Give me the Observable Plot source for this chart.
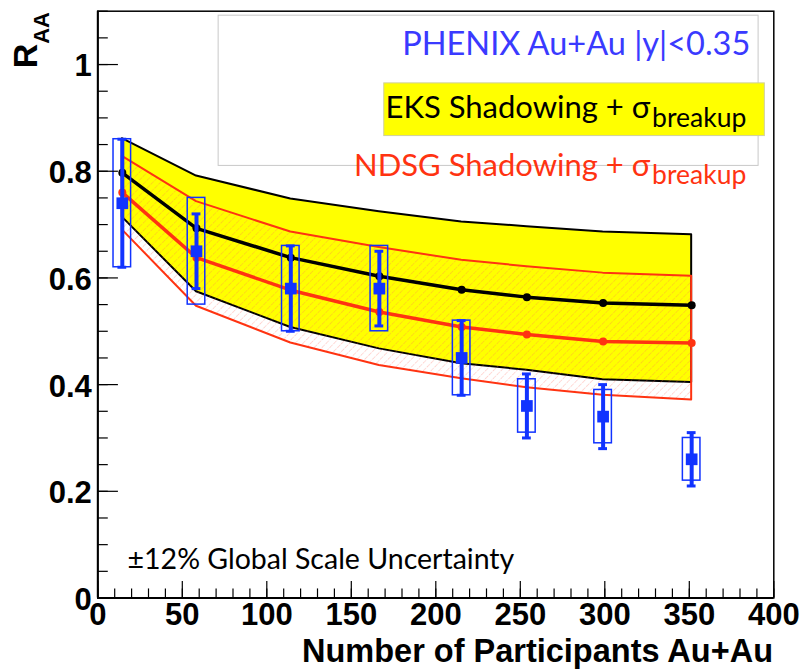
<!DOCTYPE html>
<html><head><meta charset="utf-8">
<script src="https://cdn.jsdelivr.net/npm/d3@7"></script>
<script src="https://cdn.jsdelivr.net/npm/@observablehq/plot@0.6"></script>
<style>body{margin:0;background:#fff}</style>
</head><body><div id="chart"></div>
<script>
// Number of participants (centrality bins)
const npart = [14.5, 58.4, 114.2, 166.6, 215.3, 253.9, 299.0, 351.4];
// PHENIX Au+Au |y|<0.35 J/psi R_AA
const raa    = [0.74, 0.65, 0.58, 0.58, 0.45, 0.36, 0.34, 0.26];
const statErr= [0.12, 0.07, 0.08, 0.07, 0.07, 0.06, 0.06, 0.05];
const sysErr = [0.12, 0.10, 0.08, 0.08, 0.07, 0.05, 0.05, 0.04];
// EKS shadowing + sigma_breakup band
const eksMid = [0.797, 0.693, 0.638, 0.603, 0.578, 0.564, 0.553, 0.549];
const eksHi  = [0.861, 0.791, 0.748, 0.724, 0.705, 0.696, 0.686, 0.681];
const eksLo  = [0.714, 0.574, 0.507, 0.467, 0.439, 0.427, 0.409, 0.404];
// NDSG shadowing + sigma_breakup band
const ndsgMid= [0.760, 0.638, 0.577, 0.536, 0.508, 0.494, 0.481, 0.478];
const ndsgHi = [0.828, 0.743, 0.686, 0.657, 0.633, 0.621, 0.609, 0.603];
const ndsgLo = [0.690, 0.547, 0.478, 0.436, 0.411, 0.394, 0.380, 0.371];
// axis ticks
const xTicks = [0, 50, 100, 150, 200, 250, 300, 350, 400];
const yTicks = [0, 0.2, 0.4, 0.6, 0.8, 1];
const xMinor = d3.range(0, 401, 10);
const yMinor = d3.range(0, 1.101, 0.05);

const blue = "#1133ff", red = "#ff3311";
const rows = npart.map((n, i) => ({
  n, raa: raa[i], stat: statErr[i], sys: sysErr[i],
  eksMid: eksMid[i], eksHi: eksHi[i], eksLo: eksLo[i],
  ndsgMid: ndsgMid[i], ndsgHi: ndsgHi[i], ndsgLo: ndsgLo[i]
}));

const tickFont = "Liberation Sans";
const plot = Plot.plot({
  width: 801, height: 671,
  marginLeft: 97.3, marginRight: 27.7, marginTop: 10.7, marginBottom: 73.5,
  x: {domain: [0, 400]},
  y: {domain: [0, 1.1]},
  style: {fontFamily: "Lato", background: "white", color: "black"},
  marks: [
    // legend frame
    Plot.rect([{x1: 71.5, x2: 391.0, y1: 0.810, y2: 1.0916}], {x1: "x1", x2: "x2", y1: "y1", y2: "y2", fill: "white", stroke: "#c8c8c8", strokeWidth: 1}),
    Plot.rect([{x1: 169.5, x2: 394.7, y1: 0.8659, y2: 0.9647}], {x1: "x1", x2: "x2", y1: "y1", y2: "y2", fill: "#ffff00", stroke: "#d0d0a0", strokeWidth: 1}),
    // EKS band
    Plot.areaY(rows, {x: "n", y1: "eksLo", y2: "eksHi", fill: "#ffff00", stroke: "black", strokeWidth: 2}),
    // NDSG band (hatched)
    Plot.areaY(rows, {x: "n", y1: "ndsgLo", y2: "ndsgHi", fill: "url(#hatch)", stroke: red, strokeWidth: 2}),
    // central curves
    Plot.line(rows, {x: "n", y: "eksMid", stroke: "black", strokeWidth: 3.5}),
    Plot.dot(rows, {x: "n", y: "eksMid", fill: "black", r: 4}),
    Plot.line(rows, {x: "n", y: "ndsgMid", stroke: red, strokeWidth: 3.5}),
    Plot.dot(rows, {x: "n", y: "ndsgMid", fill: red, r: 4}),
    // PHENIX data
    Plot.rect(rows, {x1: d => d.n - 5.2, x2: d => d.n + 5.2, y1: d => d.raa - d.sys, y2: d => d.raa + d.sys, fill: "none", stroke: blue, strokeWidth: 1.5}),
    Plot.ruleX(rows, {x: "n", y1: d => d.raa - d.stat, y2: d => d.raa + d.stat, stroke: blue, strokeWidth: 4}),
    Plot.ruleY(rows, {y: d => d.raa + d.stat, x1: d => d.n - 2.6, x2: d => d.n + 2.6, stroke: blue, strokeWidth: 3}),
    Plot.ruleY(rows, {y: d => d.raa - d.stat, x1: d => d.n - 2.6, x2: d => d.n + 2.6, stroke: blue, strokeWidth: 3}),
    Plot.dot(rows, {x: "n", y: "raa", symbol: "square", fill: blue, r: 6.6}),
    // legend texts
    Plot.text([{x: 386.1, y: 1.0178}], {x: "x", y: "y", text: () => "PHENIX Au+Au |y|<0.35", textAnchor: "end", lineAnchor: "bottom", fontSize: 32.5, fill: "#3a3aff"}),
    Plot.text([{x: 326.9, y: 0.899}], {x: "x", y: "y", text: () => "EKS Shadowing + σ", textAnchor: "end", lineAnchor: "bottom", fontSize: 31, fill: "black"}),
    Plot.text([{x: 328.0, y: 0.8833}], {x: "x", y: "y", text: () => "breakup", textAnchor: "start", lineAnchor: "bottom", fontSize: 26.5, fill: "black"}),
    Plot.text([{x: 326.9, y: 0.7914}], {x: "x", y: "y", text: () => "NDSG Shadowing + σ", textAnchor: "end", lineAnchor: "bottom", fontSize: 31, fill: red}),
    Plot.text([{x: 328.0, y: 0.7758}], {x: "x", y: "y", text: () => "breakup", textAnchor: "start", lineAnchor: "bottom", fontSize: 26.5, fill: red}),
    Plot.text([{x: 17.6, y: 0.0535}], {x: "x", y: "y", text: () => "±12% Global Scale Uncertainty", textAnchor: "start", lineAnchor: "bottom", fontSize: 28.5, fill: "black"}),
    // ticks (inward)
    Plot.ruleY(yMinor, {y: d => d, x1: 0, x2: 6.2, stroke: "black", strokeWidth: 1.2}),
    Plot.ruleY(yTicks, {y: d => d, x1: 0, x2: 12.2, stroke: "black", strokeWidth: 1.2}),
    Plot.ruleX(xMinor, {x: d => d, y1: 0, y2: 0.017, stroke: "black", strokeWidth: 1.2}),
    Plot.ruleX(xTicks, {x: d => d, y1: 0, y2: 0.031, stroke: "black", strokeWidth: 1.2}),
    Plot.frame({stroke: "black", strokeWidth: 1.5}),
    Plot.ruleX([0], {stroke: "black", strokeWidth: 2}),
    Plot.ruleY([0], {stroke: "black", strokeWidth: 2}),
    Plot.axisX({ticks: xTicks, tickSize: 0, tickPadding: 5, fontSize: 31, fontWeight: "bold", label: null, tickFormat: d => String(d)}),
    Plot.axisY({ticks: yTicks, tickSize: 0, tickPadding: 6, dy: 2, fontSize: 31, fontWeight: "bold", label: null, tickFormat: d => String(d)})
  ]
});

const svg = d3.select(plot);
// tick labels in a Helvetica-like face
svg.selectAll("g[aria-label='x-axis tick label'], g[aria-label='y-axis tick label']")
  .attr("font-family", tickFont).style("font-family", tickFont);

const defs = svg.insert("defs", ":first-child");
const pat = defs.append("pattern").attr("id", "hatch").attr("patternUnits", "userSpaceOnUse")
  .attr("width", 5.5).attr("height", 5.5).attr("patternTransform", "rotate(45)");
pat.append("line").attr("x1", 0).attr("y1", 0).attr("x2", 0).attr("y2", 5.5)
  .attr("stroke", "#ff6a5a").attr("stroke-width", 0.9).attr("stroke-opacity", 0.6).attr("stroke-dasharray", "2 1.2");

// axis titles
const yt = svg.append("text").attr("transform", "translate(37,12) rotate(-90)").attr("text-anchor", "end")
  .attr("font-family", tickFont).attr("font-weight", "bold").attr("font-size", 34).attr("fill", "black");
yt.append("tspan").text("R");
yt.append("tspan").attr("dy", 12).attr("font-size", 22).text("AA");
svg.append("text").attr("x", 773).attr("y", 662).attr("text-anchor", "end")
  .attr("font-family", tickFont).attr("font-weight", "bold").attr("font-size", 32.5).attr("fill", "black")
  .text("Number of Participants Au+Au");

document.getElementById("chart").appendChild(plot);
</script>
</body></html>
